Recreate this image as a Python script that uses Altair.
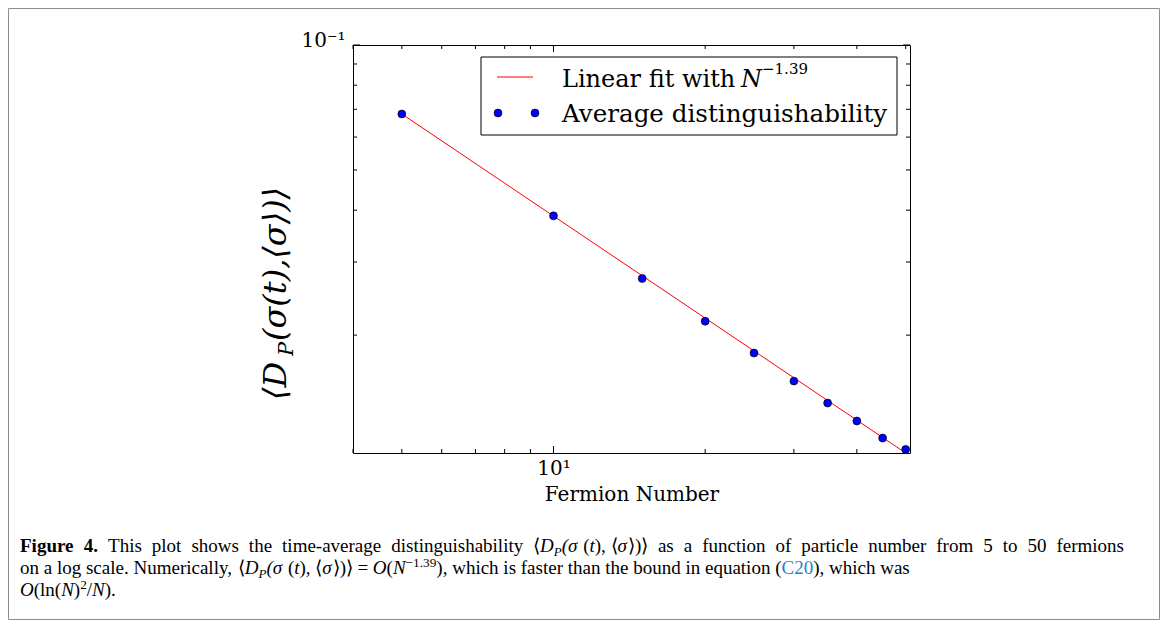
import altair as alt
import pandas as pd

# ---- data ----
N = [5, 10, 15, 20, 25, 30, 35, 40, 45, 50]
D = [0.0682, 0.03877, 0.02738, 0.02160, 0.01811, 0.01550, 0.01372, 0.01242, 0.01130, 0.01061]
FIT_N = [5, 50]
FIT_D = [0.0682, 0.01040]
X_MINOR = [4, 5, 6, 7, 8, 9, 20, 30, 40, 50]
X_MAJOR = [10]
Y_MINOR = [0.02, 0.03, 0.04, 0.05, 0.06, 0.07, 0.08, 0.09]
Y_MAJOR = [0.1]

W, H = 557, 408
OX, OY = 353, 45  # page position of plot origin
SERIF = "DejaVu Serif"
CAP = "Liberation Serif"

xs = alt.Scale(type="log", domain=[4, 51], nice=False)
ys = alt.Scale(type="log", domain=[0.0104, 0.1], nice=False)

xaxis = alt.Axis(values=X_MAJOR, labelExpr="'10¹'", ticks=False, domain=False, grid=False,
                 title="Fermion Number", labelFont=SERIF, labelFontSize=20, labelColor="black",
                 titleFont=SERIF, titleFontSize=20, titleFontWeight="normal", titleColor="black",
                 labelPadding=5, titlePadding=6, labelFlush=False)
yaxis = alt.Axis(values=Y_MAJOR, labelExpr="'10⁻¹'", ticks=False, domain=False, grid=False,
                 title=None, labelFont=SERIF, labelFontSize=20, labelColor="black",
                 labelPadding=8, labelOffset=-5)

pts_df = pd.DataFrame({"N": N, "D": D})
fit_df = pd.DataFrame({"N": FIT_N, "D": FIT_D})
one = pd.DataFrame({"a": [0]})

X = lambda f: alt.X(f, type="quantitative", scale=xs, axis=xaxis)
Y = lambda f: alt.Y(f, type="quantitative", scale=ys, axis=yaxis)

fit = alt.Chart(fit_df).mark_line(color="#ff0000", strokeWidth=1, clip=True).encode(x=X("N"), y=Y("D"))
pts = alt.Chart(pts_df).mark_point(filled=True, fill="#0000ff", stroke="black", strokeWidth=0.7,
                                   size=62, opacity=1).encode(x=X("N"), y=Y("D"))

layers = [fit, pts]

def xticks(vals, length):
    df = pd.DataFrame({"v": vals})
    b = alt.Chart(df).mark_rule(color="black", strokeWidth=1).encode(
        x=X("v"), y=alt.value(H), y2=alt.value(H - length))
    t = alt.Chart(df).mark_rule(color="black", strokeWidth=1).encode(
        x=X("v"), y=alt.value(0), y2=alt.value(length))
    return [b, t]

def yticks(vals, length):
    df = pd.DataFrame({"v": vals})
    l = alt.Chart(df).mark_rule(color="black", strokeWidth=1).encode(
        y=Y("v"), x=alt.value(0), x2=alt.value(length))
    r = alt.Chart(df).mark_rule(color="black", strokeWidth=1).encode(
        y=Y("v"), x=alt.value(W), x2=alt.value(W - length))
    return [l, r]

layers += xticks(X_MINOR, 4) + xticks(X_MAJOR, 7) + yticks(Y_MINOR, 4) + yticks(Y_MAJOR, 7)


def txt(s, px, py, size, font=SERIF, style="normal", weight="normal", color="black",
        align="left", baseline="alphabetic", angle=0):
    return alt.Chart(one).mark_text(text=s, fontSize=size, font=font, fontStyle=style,
                                    fontWeight=weight, color=color, align=align,
                                    baseline=baseline, angle=angle).encode(
        x=alt.value(px - OX), y=alt.value(py - OY))


def box(x1, y1, x2, y2, fill, stroke, sw=1):
    return alt.Chart(one).mark_rect(fill=fill, stroke=stroke, strokeWidth=sw).encode(
        x=alt.value(x1 - OX), x2=alt.value(x2 - OX), y=alt.value(y1 - OY), y2=alt.value(y2 - OY))

# legend
layers.append(box(481, 57, 897, 135, "white", "black"))
layers.append(alt.Chart(one).mark_rule(color="#ff0000", strokeWidth=1).encode(
    x=alt.value(497 - OX), x2=alt.value(533 - OX), y=alt.value(77 - OY)))
for p in [498, 535]:
    layers.append(alt.Chart(one).mark_point(filled=True, fill="#0000ff", stroke="black",
                                            strokeWidth=0.7, size=62, opacity=1).encode(
        x=alt.value(p - OX), y=alt.value(113 - OY)))
layers.append(txt("Linear fit with", 562, 87, 24))
layers.append(txt("N", 741, 87, 24, style="italic"))
layers.append(txt("−1.39", 762, 74, 15))
layers.append(txt("Average distinguishability", 562, 122, 24.6))

# rotated y title  ⟨D_P(σ(t),⟨σ⟩)⟩
TX = 286
layers.append(txt("⟨D", TX, 400, 32, style="italic", angle=270))
layers.append(txt("P", TX + 7, 356, 21, style="italic", angle=270))
layers.append(txt("(σ(t),⟨σ⟩)⟩", TX, 341, 32, style="italic", angle=270))

# outer frame of the figure
layers.append(box(8.5, 8.5, 1159.5, 619.5, None, "#8c8c8c"))

# ---- caption: flowed text with Times-like advance widths ----
TW = {' ': .25, 'a': .444, 'b': .5, 'c': .444, 'd': .5, 'e': .444, 'f': .333, 'g': .5, 'h': .5,
      'i': .278, 'j': .278, 'k': .5, 'l': .278, 'm': .778, 'n': .5, 'o': .5, 'p': .5, 'q': .5,
      'r': .333, 's': .389, 't': .278, 'u': .5, 'v': .5, 'w': .722, 'x': .5, 'y': .5, 'z': .444,
      'T': .611, 'F': .556, 'N': .722, 'O': .722, 'C': .667, 'P': .556, 'D': .722,
      '.': .25, ',': .25, '(': .333, ')': .333, '-': .333, '=': .564, '/': .278, '²': .3,
      '−': .564, '⟨': .36, '⟩': .36, 'σ': .55}
TB = {'F': .611, 'u': .556, 'r': .444}
TI = {'P': .611, 'N': .667}


def adv(s, style, weight):
    w = 0
    for ch in s:
        if weight == "bold" and ch in TB:
            w += TB[ch]
        elif style == "italic" and ch in TI:
            w += TI[ch]
        else:
            w += TW.get(ch, .5)
    return w


def tok(t, style="normal", weight="normal", scale=1.0, dy=0, color="black", sp=False, fixed=False):
    return dict(t=t, style=style, weight=weight, scale=scale, dy=dy, color=color, sp=sp, fixed=fixed)


def math_D():
    return [tok("⟨"), tok("D", style="italic"), tok("P", style="italic", scale=.68, dy=4),
            tok("(σ", style="italic", sp=True, fixed=True), tok("("), tok("t", style="italic"),
            tok("),", sp=True, fixed=True), tok("⟨"), tok("σ", style="italic"), tok("⟩)⟩", sp=True)]


def flow(tokens, x0, base, size, justify_to=None):
    nat = sum(adv(t["t"], t["style"], t["weight"]) * size * t["scale"] for t in tokens)
    nat += sum(TW[' '] * size for t in tokens if t["sp"])
    nsp = sum(1 for t in tokens if t["sp"] and not t["fixed"])
    extra = 0.0
    if justify_to is not None and nsp:
        extra = (justify_to - x0 - nat) / nsp
    x = x0
    out = []
    for t in tokens:
        out.append(txt(t["t"], x, base + t["dy"], size * t["scale"], font=CAP, style=t["style"],
                       weight=t["weight"], color=t["color"]))
        x += adv(t["t"], t["style"], t["weight"]) * size * t["scale"]
        if t["sp"]:
            x += TW[' '] * size + (0 if t["fixed"] else extra)
    return out


CS = 19
line1 = ([tok("Figure", weight="bold", sp=True), tok("4.", weight="bold", sp=True)]
         + [tok(w, sp=True) for w in "This plot shows the time-average distinguishability".split(" ")]
         + math_D()
         + [tok(w, sp=True) for w in "as a function of particle number from 5 to 50".split(" ")]
         + [tok("fermions")])
line2 = ([tok(w, sp=True) for w in "on a log scale. Numerically,".split(" ")]
         + math_D()
         + [tok("=", sp=True), tok("O", style="italic"), tok("("), tok("N", style="italic"),
            tok("−1.39", scale=.7, dy=-7), tok("),", sp=True)]
         + [tok(w, sp=True) for w in "which is faster than the bound in equation".split(" ")]
         + [tok("("), tok("C20", color="#2f7fc1"), tok("),", sp=True), tok("which", sp=True), tok("was")])
line3 = [tok("O", style="italic"), tok("(ln("), tok("N", style="italic"), tok(")"),
         tok("2", scale=.7, dy=-7), tok("/"), tok("N", style="italic"), tok(").")]

layers += flow(line1, 20, 552, CS, justify_to=1124)
layers += flow(line2, 20, 574, CS)
layers += flow(line3, 20, 596, CS)

chart = alt.layer(*layers).properties(
    width=W, height=H,
    padding={"left": OX - 8, "top": OY - 8, "right": 1152 - (OX - 8) - W, "bottom": 612 - (OY - 8) - H},
    autosize=alt.AutoSizeParams(type="none"),
    background="white",
).configure_view(stroke="black", strokeWidth=1)

chart.save("out.html", embed_options={"renderer": "svg", "actions": False})
